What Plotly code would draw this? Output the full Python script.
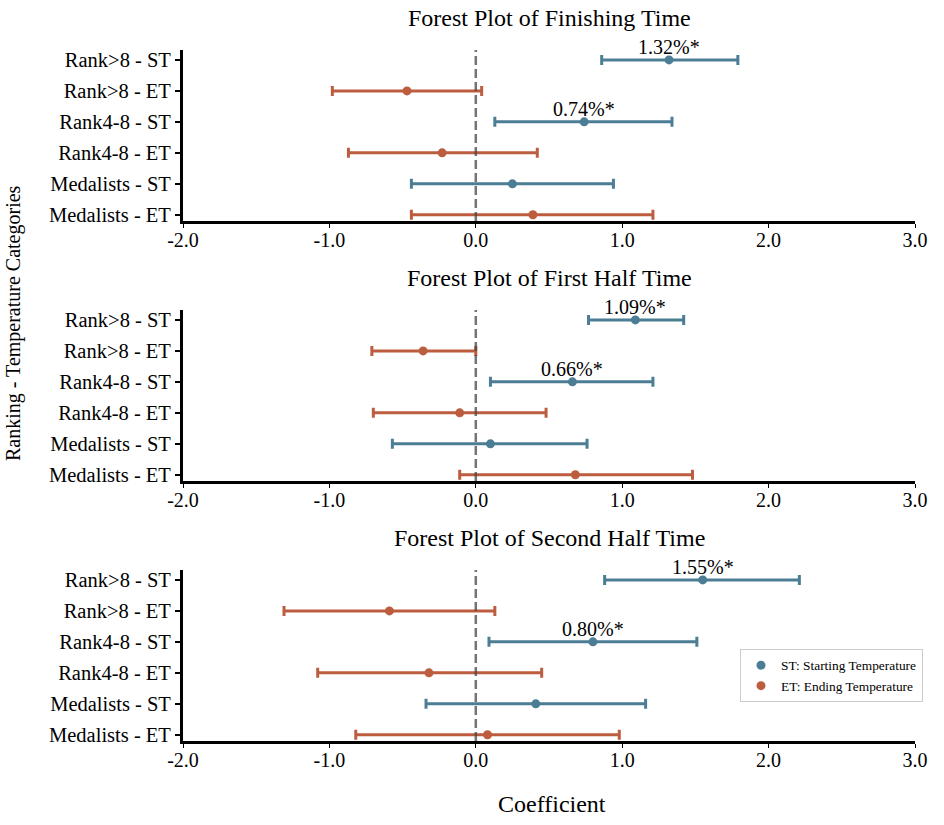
import plotly.graph_objects as go

# ---------------- data ----------------
panel_titles = ["Forest Plot of Finishing Time",
                "Forest Plot of First Half Time",
                "Forest Plot of Second Half Time"]
groups = ["Rank>8", "Rank4-8", "Medalists"]

# Finishing time
fin_st_est = [1.32, 0.74, 0.25]
fin_st_lo = [0.86, 0.13, -0.44]
fin_st_hi = [1.79, 1.34, 0.94]
fin_et_est = [-0.47, -0.23, 0.39]
fin_et_lo = [-0.98, -0.87, -0.44]
fin_et_hi = [0.04, 0.42, 1.21]

# First half time
fh_st_est = [1.09, 0.66, 0.10]
fh_st_lo = [0.77, 0.10, -0.57]
fh_st_hi = [1.42, 1.21, 0.76]
fh_et_est = [-0.36, -0.11, 0.68]
fh_et_lo = [-0.71, -0.70, -0.11]
fh_et_hi = [0.00, 0.48, 1.48]

# Second half time
sh_st_est = [1.55, 0.80, 0.41]
sh_st_lo = [0.88, 0.09, -0.34]
sh_st_hi = [2.21, 1.51, 1.16]
sh_et_est = [-0.59, -0.32, 0.08]
sh_et_lo = [-1.31, -1.08, -0.82]
sh_et_hi = [0.13, 0.45, 0.98]

st_significant = [True, True, False]

x_ticks = [-2.0, -1.0, 0.0, 1.0, 2.0, 3.0]
legend_names = ["ST: Starting Temperature", "ET: Ending Temperature"]

panels = [
    (fin_st_est, fin_st_lo, fin_st_hi, fin_et_est, fin_et_lo, fin_et_hi),
    (fh_st_est, fh_st_lo, fh_st_hi, fh_et_est, fh_et_lo, fh_et_hi),
    (sh_st_est, sh_st_lo, sh_st_hi, sh_et_est, sh_et_lo, sh_et_hi),
]

# ---------------- style ----------------
W, H = 944, 825
FONT = "Liberation Serif"
C_ST = "#4b7d94"
C_ET = "#bd5d3f"
row_labels_top_down = []
for g in groups:
    row_labels_top_down += [f"{g} - ST", f"{g} - ET"]
cat_array = list(reversed(row_labels_top_down))  # index 0 at bottom

x_left, x_right = 183, 915
panel_tops = [50, 310, 570]
panel_h = 171

fig = go.Figure()
annotations = []
shapes = []

for i, (st_e, st_l, st_h, et_e, et_l, et_h) in enumerate(panels):
    k = "" if i == 0 else str(i + 1)
    xa, ya = "x" + k, "y" + k
    st_rows = [f"{g} - ST" for g in groups]
    et_rows = [f"{g} - ET" for g in groups]
    for rows, e, lo, hi, col, name in [
        (st_rows, st_e, st_l, st_h, C_ST, legend_names[0]),
        (et_rows, et_e, et_l, et_h, C_ET, legend_names[1]),
    ]:
        fig.add_trace(go.Scatter(
            x=e, y=rows, mode="markers", name=name,
            xaxis=xa, yaxis=ya, showlegend=(i == 0), legendgroup=name,
            marker=dict(color=col, size=9),
            error_x=dict(type="data", symmetric=False,
                         array=[h - v for h, v in zip(hi, e)],
                         arrayminus=[v - l for v, l in zip(e, lo)],
                         color=col, thickness=3, width=5),
        ))
    for r, v, s in zip(st_rows, st_e, st_significant):
        if s:
            annotations.append(dict(x=v, y=r, xref=xa, yref=ya, text=f"{v:.2f}%*",
                                    showarrow=False, yanchor="middle", yshift=13,
                                    font=dict(family=FONT, size=20, color="black")))
    shapes.append(dict(type="line", xref=xa, yref=ya + " domain", x0=0, x1=0, y0=0, y1=1,
                       line=dict(color="rgba(70,70,70,0.75)", width=2.5, dash="9px,4px"),
                       layer="above"))
    top = panel_tops[i]
    dom = [1 - (top + panel_h) / H, 1 - top / H]
    fig.layout["xaxis" + k] = dict(
        domain=[x_left / W, x_right / W], range=[-2, 3], anchor=ya,
        tickvals=x_ticks, ticktext=[f"{t:.1f}" for t in x_ticks],
        showline=True, linecolor="black", linewidth=3, mirror=False,
        ticks="outside", ticklen=4, tickwidth=1, tickcolor="black",
        ticklabelstandoff=-5,
        showgrid=False, zeroline=False, automargin=False,
        tickfont=dict(family=FONT, size=20, color="black"),
    )
    fig.layout["yaxis" + k] = dict(
        domain=dom, type="category", categoryorder="array", categoryarray=cat_array,
        range=[-0.2, 5.32], anchor=xa,
        showline=True, linecolor="black", linewidth=3,
        ticks="outside", ticklen=5, tickwidth=1.5, tickcolor="black",
        showgrid=False, zeroline=False, automargin=False,
        tickfont=dict(family=FONT, size=20.5, color="black"),
    )
    annotations.append(dict(x=(x_left + x_right) / 2 / W, y=1 - (top - 32) / H,
                            xref="paper", yref="paper", text=panel_titles[i],
                            showarrow=False, xanchor="center", yanchor="middle",
                            font=dict(family=FONT, size=24, color="black")))

annotations.append(dict(x=552 / W, y=1 - 804 / H, xref="paper", yref="paper",
                        text="Coefficient", showarrow=False, xanchor="center", yanchor="middle",
                        font=dict(family=FONT, size=24, color="black")))
annotations.append(dict(x=13 / W, y=1 - 323 / H, xref="paper", yref="paper",
                        text="Ranking - Temperature Categories", showarrow=False, textangle=-90,
                        xanchor="center", yanchor="middle",
                        font=dict(family=FONT, size=20, color="black")))

fig.update_layout(
    width=W, height=H,
    margin=dict(l=0, r=0, t=0, b=0),
    paper_bgcolor="white", plot_bgcolor="white",
    font=dict(family=FONT, color="black"),
    annotations=annotations, shapes=shapes,
    legend=dict(x=740 / W, y=1 - 649 / H, xanchor="left", yanchor="top",
                bgcolor="white", bordercolor="#cccccc", borderwidth=1,
                font=dict(family=FONT, size=13.4, color="black"),
                itemwidth=30, tracegroupgap=0),
)

fig.write_html("out.html", config={"displayModeBar": False},
               post_script="document.body.style.margin='0';")
